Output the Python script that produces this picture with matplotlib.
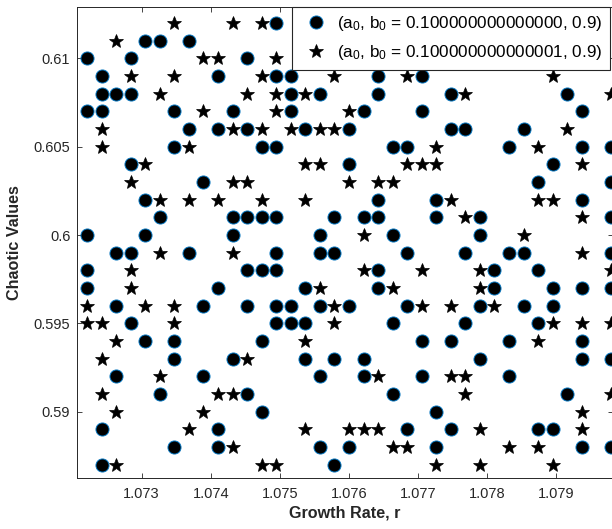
import matplotlib
matplotlib.use("Agg")
import matplotlib.pyplot as plt

plt.rcParams["font.family"] = ["Liberation Sans", "DejaVu Sans"]
plt.rcParams["mathtext.fontset"] = "custom"
plt.rcParams["mathtext.rm"] = "Liberation Sans"
plt.rcParams["mathtext.it"] = "Liberation Sans"

# ── DATA ─────────────────────────────────────────────────────────────────────
# growth rate r of each column of points
r_vals = [1.072211, 1.072421, 1.072632, 1.072842, 1.073053, 1.073263, 1.073474,
          1.073684, 1.073895, 1.074105, 1.074316, 1.074526, 1.074737, 1.074947,
          1.075158, 1.075368, 1.075579, 1.075789, 1.076000, 1.076211, 1.076421,
          1.076632, 1.076842, 1.077053, 1.077263, 1.077474, 1.077684, 1.077895,
          1.078105, 1.078316, 1.078526, 1.078737, 1.078947, 1.079158, 1.079368,
          1.079579, 1.079789]

# chaotic values per column, a0 = 0.100000000000000 (circles)
circle_y = [
    [0.610, 0.607, 0.600, 0.598, 0.597],
    [0.609, 0.608, 0.607, 0.589, 0.587],
    [0.608, 0.599, 0.596, 0.592],
    [0.610, 0.608, 0.604, 0.599, 0.595],
    [0.611, 0.602, 0.600, 0.594],
    [0.611, 0.601, 0.591],
    [0.607, 0.605, 0.594, 0.593, 0.588],
    [0.611, 0.606, 0.599],
    [0.603, 0.596, 0.592],
    [0.609, 0.606, 0.597, 0.589, 0.588],
    [0.607, 0.601, 0.600, 0.593],
    [0.610, 0.606, 0.601, 0.598, 0.596, 0.591],
    [0.605, 0.601, 0.598, 0.594, 0.590],
    [0.612, 0.609, 0.605, 0.601, 0.599, 0.598, 0.596, 0.595],
    [0.609, 0.608, 0.607, 0.596, 0.595],
    [0.606, 0.597, 0.595, 0.593],
    [0.608, 0.600, 0.599, 0.596, 0.592, 0.588],
    [0.601, 0.599, 0.593, 0.587],
    [0.606, 0.604, 0.596, 0.588],
    [0.607, 0.601, 0.593, 0.592],
    [0.609, 0.608, 0.602, 0.601, 0.598, 0.597],
    [0.605, 0.600, 0.595, 0.591],
    [0.605, 0.599, 0.596, 0.589],
    [0.609, 0.607, 0.594, 0.592],
    [0.602, 0.601, 0.590, 0.588],
    [0.608, 0.606, 0.594, 0.589],
    [0.606, 0.599, 0.595],
    [0.601, 0.600, 0.596, 0.593],
    [0.598, 0.597],
    [0.605, 0.599, 0.594, 0.592],
    [0.606, 0.599, 0.596],
    [0.603, 0.598, 0.595, 0.589],
    [0.604, 0.597, 0.596, 0.589],
    [0.608, 0.591],
    [0.607, 0.605, 0.602, 0.597, 0.594, 0.593, 0.588],
    [],
    [0.605, 0.603, 0.601, 0.599, 0.597, 0.593, 0.588],
]

# chaotic values per column, a0 = 0.100000000000001 (stars)
star_y = [
    [0.596, 0.595],
    [0.606, 0.605, 0.595, 0.593, 0.591],
    [0.611, 0.594, 0.590, 0.587],
    [0.609, 0.603, 0.598, 0.597],
    [0.604, 0.596],
    [0.608, 0.602, 0.599, 0.592],
    [0.612, 0.609, 0.596, 0.595],
    [0.605, 0.602, 0.589],
    [0.610, 0.607, 0.590],
    [0.610, 0.602, 0.591],
    [0.612, 0.606, 0.603, 0.599, 0.591, 0.588],
    [0.608, 0.603, 0.593],
    [0.612, 0.609, 0.606, 0.602, 0.587],
    [0.610, 0.608, 0.607, 0.587],
    [0.606],
    [0.608, 0.604, 0.602, 0.594, 0.589],
    [0.606, 0.604, 0.597],
    [0.609, 0.606, 0.596, 0.595],
    [0.607, 0.603, 0.589],
    [0.600, 0.598, 0.589],
    [0.603, 0.592, 0.589],
    [0.603, 0.597, 0.588],
    [0.609, 0.604, 0.588],
    [0.604, 0.598, 0.596],
    [0.605, 0.604, 0.587],
    [0.602, 0.596, 0.592],
    [0.608, 0.601, 0.592, 0.591],
    [0.598, 0.597, 0.589, 0.587],
    [0.596],
    [0.588],
    [0.600],
    [0.605, 0.602, 0.594, 0.588],
    [0.609, 0.602, 0.595, 0.587],
    [0.606],
    [0.604, 0.601, 0.599, 0.595, 0.590, 0.589],
    [],
    [0.608, 0.598, 0.595, 0.591],
]

x_ticks = [1.073, 1.074, 1.075, 1.076, 1.077, 1.078, 1.079]
y_ticks = [0.59, 0.595, 0.6, 0.605, 0.61]
y_ticklabels = ["0.59", "0.595", "0.6", "0.605", "0.61"]

labels = [r"(a$_0$, b$_0$ = 0.100000000000000, 0.9)",
          r"(a$_0$, b$_0$ = 0.100000000000001, 0.9)"]

xc = [r for r, ys in zip(r_vals, circle_y) for _ in ys]
yc = [y for ys in circle_y for y in ys]
xs = [r for r, ys in zip(r_vals, star_y) for _ in ys]
ys_ = [y for ys in star_y for y in ys]

DARK = "#262626"

fig = plt.figure(figsize=(6.12, 5.29), dpi=100)
ax = fig.add_axes([0.1263, 0.0970, 0.8753, 0.8904])

ax.plot(xc, yc, "o", ms=9.4, mfc="black", mec="#0072BD", mew=0.7,
        ls="none", label=labels[0])
ax.plot(xs, ys_, "*", ms=10.8, mfc="black", mec="black", mew=0.5,
        ls="none", label=labels[1])

ax.set_xlim(1.07207, 1.07982)
ax.set_ylim(0.58627, 0.61292)
ax.set_xticks(x_ticks)
ax.set_xticklabels([f"{t:.3f}" for t in x_ticks])
ax.set_yticks(y_ticks)
ax.set_yticklabels(y_ticklabels)

ax.tick_params(direction="in", top=True, right=True, length=3.6, width=0.6,
               colors=DARK, labelsize=10.5)
ax.tick_params(axis="x", pad=6.5)
ax.tick_params(axis="y", pad=5)
for sp in ax.spines.values():
    sp.set_color(DARK)
    sp.set_linewidth(0.7)

ax.set_xlabel("Growth Rate, r", fontsize=11.6, fontweight="bold", color=DARK)
ax.set_ylabel("Chaotic Values", fontsize=11.6, fontweight="bold", color=DARK)
ax.xaxis.set_label_coords(0.5, -0.06)
ax.yaxis.set_label_coords(-0.103, 0.5)

leg = ax.legend(loc="upper left", bbox_to_anchor=(0.4002, 0.5, 0.5942, 0.5),
                mode="expand", borderaxespad=0, fontsize=12.3, numpoints=1,
                handlelength=1.95, handletextpad=0.27, borderpad=0.42,
                labelspacing=0.62, fancybox=False, framealpha=1)
leg.get_frame().set_edgecolor(DARK)
leg.get_frame().set_linewidth(0.8)
leg.set_zorder(10)

fig.savefig("out.png", dpi=100)
